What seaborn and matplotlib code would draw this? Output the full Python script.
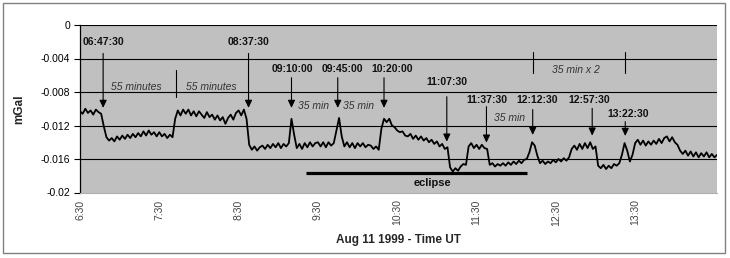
import numpy as np
import pandas as pd
import matplotlib
matplotlib.use('Agg')
import matplotlib.pyplot as plt
import seaborn as sns
from matplotlib.patches import Rectangle

# ---------------- data ----------------
# sample times: minutes after 06:30 UT (2-minute steps)
minutes = np.arange(0, 484, 2)
# gravity residual (mGal)
gravity = [
    -0.0103, -0.0106, -0.0100, -0.0105, -0.0102, -0.0107, -0.0101, -0.0104, -0.0106, -0.0121,  # 6:30
    -0.0134, -0.0138, -0.0135, -0.0139, -0.0133, -0.0137, -0.0132, -0.0136, -0.0131, -0.0135,  # 6:50
    -0.0130, -0.0134, -0.0129, -0.0133, -0.0127, -0.0132, -0.0126, -0.0131, -0.0128, -0.0133,  # 7:10
    -0.0128, -0.0133, -0.0130, -0.0135, -0.0131, -0.0134, -0.0112, -0.0102, -0.0108, -0.0101,  # 7:30
    -0.0106, -0.0101, -0.0108, -0.0103, -0.0109, -0.0103, -0.0107, -0.0111, -0.0104, -0.0110,  # 7:50
    -0.0107, -0.0113, -0.0108, -0.0114, -0.0110, -0.0118, -0.0111, -0.0107, -0.0113, -0.0105,  # 8:10
    -0.0102, -0.0108, -0.0101, -0.0112, -0.0143, -0.0149, -0.0145, -0.0150, -0.0146, -0.0144,  # 8:30
    -0.0148, -0.0143, -0.0147, -0.0142, -0.0146, -0.0141, -0.0147, -0.0142, -0.0145, -0.0141,  # 8:50
    -0.0112, -0.0131, -0.0147, -0.0142, -0.0148, -0.0141, -0.0146, -0.0140, -0.0145, -0.0141,  # 9:10
    -0.0140, -0.0145, -0.0140, -0.0146, -0.0140, -0.0144, -0.0141, -0.0126, -0.0111, -0.0133,  # 9:30
    -0.0145, -0.0140, -0.0146, -0.0141, -0.0147, -0.0141, -0.0145, -0.0141, -0.0146, -0.0143,  # 9:50
    -0.0144, -0.0148, -0.0145, -0.0149, -0.0124, -0.0112, -0.0116, -0.0112, -0.0120, -0.0122,  # 10:10
    -0.0126, -0.0128, -0.0127, -0.0132, -0.0133, -0.0130, -0.0136, -0.0132, -0.0137, -0.0133,  # 10:30
    -0.0138, -0.0135, -0.0140, -0.0137, -0.0142, -0.0139, -0.0145, -0.0142, -0.0148, -0.0146,  # 10:50
    -0.0170, -0.0175, -0.0171, -0.0174, -0.0169, -0.0166, -0.0167, -0.0145, -0.0141, -0.0147,  # 11:10
    -0.0143, -0.0148, -0.0143, -0.0147, -0.0148, -0.0167, -0.0165, -0.0169, -0.0166, -0.0168,  # 11:30
    -0.0165, -0.0168, -0.0164, -0.0167, -0.0163, -0.0166, -0.0162, -0.0165, -0.0161, -0.0160,  # 11:50
    -0.0152, -0.0140, -0.0144, -0.0156, -0.0165, -0.0162, -0.0166, -0.0163, -0.0165, -0.0161,  # 12:10
    -0.0164, -0.0160, -0.0163, -0.0159, -0.0162, -0.0158, -0.0148, -0.0144, -0.0149, -0.0142,  # 12:30
    -0.0148, -0.0141, -0.0147, -0.0140, -0.0148, -0.0145, -0.0168, -0.0171, -0.0167, -0.0172,  # 12:50
    -0.0168, -0.0171, -0.0166, -0.0168, -0.0165, -0.0155, -0.0141, -0.0150, -0.0163, -0.0155,  # 13:10
    -0.0141, -0.0137, -0.0143, -0.0138, -0.0144, -0.0139, -0.0143, -0.0138, -0.0142, -0.0136,  # 13:30
    -0.0141, -0.0135, -0.0133, -0.0139, -0.0134, -0.0140, -0.0143, -0.0150, -0.0154, -0.0150,  # 13:50
    -0.0156, -0.0151, -0.0157, -0.0152, -0.0158, -0.0153, -0.0157, -0.0152, -0.0158, -0.0154,  # 14:10
    -0.0158, -0.0155,                                                                          # 14:30
]

x_tick_hours = [6.5, 7.5, 8.5, 9.5, 10.5, 11.5, 12.5, 13.5]
x_tick_labels = ['6:30', '7:30', '8:30', '9:30', '10:30', '11:30', '12:30', '13:30']
y_ticks = [0, -0.004, -0.008, -0.012, -0.016, -0.02]
y_tick_labels = ['0', '-0.004', '-0.008', '-0.012', '-0.016', '-0.02']

event_labels = ['06:47:30', '08:37:30', '09:10:00', '09:45:00', '10:20:00',
                '11:07:30', '11:37:30', '12:12:30', '12:57:30', '13:22:30']
note_texts = ['55 minutes', '55 minutes', '35 min', '35 min', '35 min', '35 min x 2']
eclipse_start, eclipse_end = '09:21:00', '12:08:30'

# ---------------- layout (positions in data units) ----------------
label_dx = [0, 0, 0.01, 0.063, 0.107, 0, 0.01, 0.05, -0.04, 0.04]
label_y = [-0.0020, -0.0020, -0.00525, -0.00525, -0.00525,
           -0.00685, -0.00896, -0.00896, -0.00896, -0.01066]
arrow_top = [-0.0034, -0.0034, -0.0063, -0.0063, -0.0063,
             -0.00856, -0.00975, -0.0101, -0.00995, -0.01154]
arrow_tip = [-0.0099, -0.0099, -0.0099, -0.0099, -0.0099,
             -0.01393, -0.01405, -0.01313, -0.01321, -0.01325]
note_x = [7.205, 8.162, 9.446, 10.012, 11.914, 12.757]
note_y = [-0.00737, -0.00737, -0.00967, -0.00967, -0.0111, -0.00537]
divider_x = ['07:42:30', '12:12:30', '13:22:30']
divider_y = [(-0.0054, -0.0086), (-0.0032, -0.0057), (-0.0032, -0.0057)]
eclipse_y = -0.01773
eclipse_text_y = -0.01887


def to_hours(s):
    h, m, sec = map(int, s.split(':'))
    return h + m / 60 + sec / 3600


df = pd.DataFrame({'hour': 6.5 + minutes / 60.0, 'mgal': gravity})

sns.set_theme(style='white')
plt.rcParams['font.family'] = ['Liberation Sans', 'DejaVu Sans']

fig = plt.figure(figsize=(7.30, 2.58), dpi=100)
ax = fig.add_axes([80 / 730, 1 - 192.5 / 258, 637 / 730, 167.5 / 258])
ax.set_facecolor('#C0C0C0')

sns.lineplot(data=df, x='hour', y='mgal', ax=ax, color='black', linewidth=1.3)

ax.set_xlim(6.5, 14.532)
ax.set_ylim(-0.02, 0)
ax.set_xticks(x_tick_hours)
ax.set_xticklabels(x_tick_labels, rotation=90, fontsize=7.5, color='#444444')
ax.set_yticks(y_ticks)
ax.set_yticklabels(y_tick_labels, fontsize=7.5, color='black')
ax.tick_params(axis='x', length=0, pad=5)
ax.tick_params(axis='y', length=4, width=0.8, color='black', direction='out', pad=3, left=True)

for yv in y_ticks[:-1]:
    ax.axhline(yv, color='black', lw=0.8, zorder=1)

for side in ['top', 'right']:
    ax.spines[side].set_visible(False)
ax.spines['left'].set_color('black')
ax.spines['left'].set_linewidth(0.9)
ax.spines['bottom'].set_color('#b0b0b0')
ax.spines['bottom'].set_linewidth(0.8)

ax.set_xlabel('Aug 11 1999 - Time UT', fontsize=8.5, fontweight='bold')
ax.xaxis.set_label_coords(0.5, -0.245)
ax.set_ylabel('mGal', fontsize=8.5, fontweight='bold')
ax.yaxis.set_label_coords(-0.086, 0.5)

# event arrows and labels
for lbl, dx, ly, at, tip in zip(event_labels, label_dx, label_y, arrow_top, arrow_tip):
    h = to_hours(lbl)
    ax.annotate('', xy=(h, tip), xytext=(h, at),
                arrowprops=dict(arrowstyle='-|>,head_length=0.38,head_width=0.18',
                                color='black', lw=0.8, shrinkA=0, shrinkB=0))
    ax.text(h + dx, ly, lbl, ha='center', va='center', fontsize=7.5,
            fontweight='bold', color='#111111')

# interval notes
for txt, nx, ny in zip(note_texts, note_x, note_y):
    ax.text(nx, ny, txt, ha='center', va='center', fontsize=7.5,
            style='italic', color='#333333')
for dt, (y0, y1) in zip(divider_x, divider_y):
    ax.plot([to_hours(dt)] * 2, [y0, y1], color='black', lw=0.8)

# eclipse bar
ax.plot([to_hours(eclipse_start), to_hours(eclipse_end)], [eclipse_y] * 2,
        color='black', lw=2.3, solid_capstyle='butt')
ax.text((to_hours(eclipse_start) + to_hours(eclipse_end)) / 2 + 0.2, eclipse_text_y,
        'eclipse', ha='center', va='center', fontsize=8, fontweight='bold', color='#111111')

# outer frame
fig.patches.append(Rectangle((3 / 730, 5 / 258), 722 / 730, 250 / 258,
                             transform=fig.transFigure, fill=False,
                             edgecolor='#808080', lw=1.0))

fig.savefig('out.png', dpi=100)
